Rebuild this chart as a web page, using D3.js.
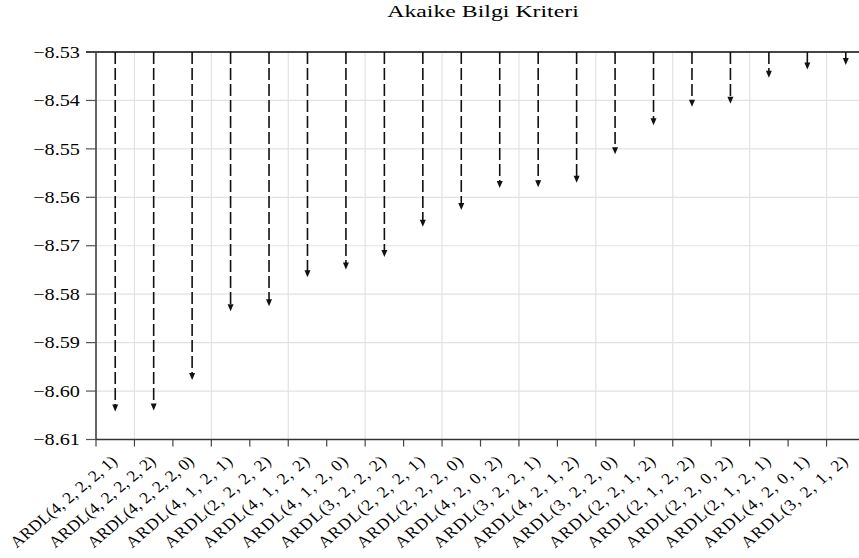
<!DOCTYPE html>
<html>
<head>
<meta charset="utf-8">
<script src="https://cdn.jsdelivr.net/npm/d3@7"></script>
<style>
  html, body { margin: 0; padding: 0; background: #fff; }
</style>
</head>
<body>
<div id="chart"></div>
<script>
// Akaike information criterion for the top 20 ARDL models
const models = [
  "ARDL(4, 2, 2, 2, 1)", "ARDL(4, 2, 2, 2, 2)", "ARDL(4, 2, 2, 2, 0)", "ARDL(4, 1, 2, 1)",
  "ARDL(2, 2, 2, 2)", "ARDL(4, 1, 2, 2)", "ARDL(4, 1, 2, 0)", "ARDL(3, 2, 2, 2)",
  "ARDL(2, 2, 2, 1)", "ARDL(2, 2, 2, 0)", "ARDL(4, 2, 0, 2)", "ARDL(3, 2, 2, 1)",
  "ARDL(4, 2, 1, 2)", "ARDL(3, 2, 2, 0)", "ARDL(2, 2, 1, 2)", "ARDL(2, 1, 2, 2)",
  "ARDL(2, 2, 0, 2)", "ARDL(2, 1, 2, 1)", "ARDL(4, 2, 0, 1)", "ARDL(3, 2, 1, 2)"
];
const aicValues = [
  -8.6042, -8.6040, -8.5977, -8.5835, -8.5825, -8.5765, -8.5749, -8.5723,
  -8.5661, -8.5626, -8.5581, -8.5579, -8.5570, -8.5511, -8.5451, -8.5413,
  -8.5407, -8.5353, -8.5336, -8.5327
];
const yTicks = [-8.53, -8.54, -8.55, -8.56, -8.57, -8.58, -8.59, -8.60, -8.61];
const title = "Akaike Bilgi Kriteri";

const width = 859;
const height = 558;
const stretch = 1.17; // text in the source image is stretched horizontally
const serif = "'Liberation Serif', 'Times New Roman', serif";

const svg = d3.select("#chart")
  .append("svg")
  .attr("width", width)
  .attr("height", height)
  .attr("font-family", serif);

svg.append("rect").attr("width", width).attr("height", height).attr("fill", "#fff");

const x = d3.scaleBand().domain(models).range([96, 865]).padding(0);
const y = d3.scaleLinear().domain([-8.61, -8.53]).range([439.5, 52]);
const cx = d => x(d) + x.bandwidth() / 2;

// grid: horizontal at every tick, vertical at every other category boundary
svg.append("g")
  .selectAll("line")
  .data(yTicks.slice(1, -1))
  .join("line")
  .attr("x1", 96).attr("x2", width)
  .attr("y1", d => y(d)).attr("y2", d => y(d))
  .attr("stroke", "#e2e2e2").attr("stroke-width", 1.2);

const boundaries = models.slice(1).map(m => x(m)).filter((d, i) => i % 2 === 0);
svg.append("g")
  .selectAll("line")
  .data(boundaries)
  .join("line")
  .attr("x1", d => d).attr("x2", d => d)
  .attr("y1", y(-8.53)).attr("y2", y(-8.61))
  .attr("stroke", "#e2e2e2").attr("stroke-width", 1.2);

// y axis
const yAxis = svg.append("g");
yAxis.append("line")
  .attr("x1", 96).attr("x2", 96)
  .attr("y1", y(-8.53)).attr("y2", y(-8.61))
  .attr("stroke", "#333").attr("stroke-width", 1.5);
yAxis.selectAll("line.tick")
  .data(yTicks)
  .join("line")
  .attr("class", "tick")
  .attr("x1", 86).attr("x2", 96)
  .attr("y1", d => y(d)).attr("y2", d => y(d))
  .attr("stroke", "#555").attr("stroke-width", 1.2);
yAxis.selectAll("text")
  .data(yTicks)
  .join("text")
  .attr("transform", d => `translate(80,${y(d)}) scale(${stretch},1)`)
  .attr("dy", "0.33em")
  .attr("text-anchor", "end")
  .attr("fill", "#000")
  .style("font-size", "17.3px")
  .text(d => d3.format(".2f")(d));

// top line at -8.53 (reference of the arrows)
svg.append("line")
  .attr("x1", 86).attr("x2", width)
  .attr("y1", y(-8.53)).attr("y2", y(-8.53))
  .attr("stroke", "#444").attr("stroke-width", 2);

// x axis
const xAxis = svg.append("g");
xAxis.append("line")
  .attr("x1", 96).attr("x2", width)
  .attr("y1", y(-8.61)).attr("y2", y(-8.61))
  .attr("stroke", "#333").attr("stroke-width", 1.5);
xAxis.selectAll("line.tick")
  .data(models.map(m => x(m)))
  .join("line")
  .attr("class", "tick")
  .attr("x1", d => d).attr("x2", d => d)
  .attr("y1", y(-8.61)).attr("y2", y(-8.61) + 7)
  .attr("stroke", "#444").attr("stroke-width", 1.2);
// labels are all fitted to the same length, as in the source
xAxis.selectAll("text")
  .data(models)
  .join("text")
  .attr("transform", d => `translate(${cx(d) + 3},${y(-8.61) + 23}) scale(1.1,1) rotate(-43)`)
  .attr("text-anchor", "end")
  .attr("textLength", 126)
  .attr("lengthAdjust", "spacing")
  .attr("fill", "#000")
  .style("font-size", "16px")
  .text(d => d);

// dashed drop arrows from -8.53 down to each value
const headLen = 7;
const arrows = svg.append("g");
arrows.selectAll("line")
  .data(aicValues)
  .join("line")
  .attr("x1", (d, i) => cx(models[i])).attr("x2", (d, i) => cx(models[i]))
  .attr("y1", y(-8.53)).attr("y2", d => y(d) - headLen + 1)
  .attr("stroke", "#111").attr("stroke-width", 1.6)
  .attr("stroke-dasharray", "12,4");
arrows.selectAll("path")
  .data(aicValues)
  .join("path")
  .attr("d", (d, i) => {
    const px = cx(models[i]), py = y(d);
    return `M${px - 3},${py - headLen}L${px + 3},${py - headLen}L${px},${py}Z`;
  })
  .attr("fill", "#111");

// title
svg.append("text")
  .attr("transform", `translate(483,17) scale(1.36,1)`)
  .attr("text-anchor", "middle")
  .attr("fill", "#000")
  .style("font-size", "17.5px")
  .text(title);
</script>
</body>
</html>
